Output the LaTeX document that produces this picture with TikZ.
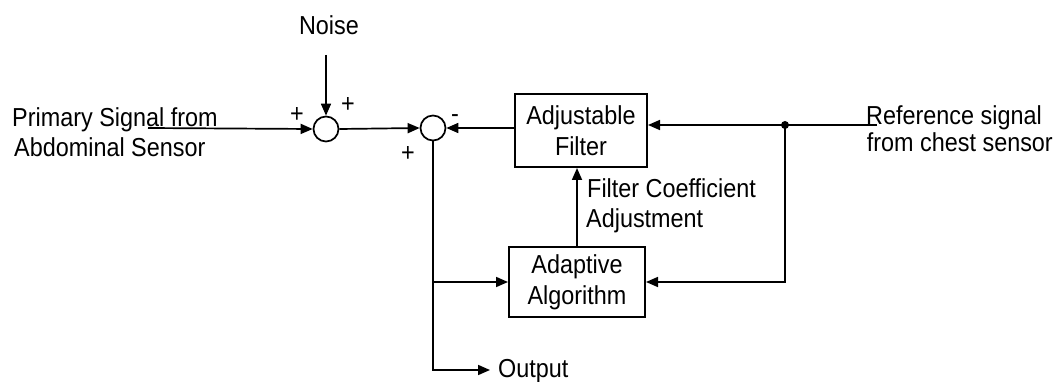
\documentclass[tikz,border=0pt]{standalone}
\usepackage{fontspec}
\setmainfont{Liberation Sans}[FakeStretch=0.9]
\usetikzlibrary{arrows.meta}
\tikzset{
  wire/.style={line width=1.7pt, line join=miter},
  sig/.style={wire, -{Triangle[length=12pt,width=10pt]}},
  sumpt/.style={circle, draw, line width=1.7pt, minimum size=25pt, inner sep=0pt},
  block/.style={draw, line width=2pt, align=center, inner sep=0pt,
    font=\fontsize{26}{31}\selectfont},
  lbl/.style={inner sep=0pt, font=\fontsize{26}{30}\selectfont},
  sgn/.style={inner sep=0pt, font=\fontsize{26}{28}\selectfont},
}
\begin{document}
\begin{tikzpicture}[x=1pt, y=-1pt]
  \useasboundingbox (0,0) rectangle (1057,382);

  % summing junctions
  \node[sumpt] (s1) at (326,129) {};
  \node[sumpt] (s2) at (433,128) {};

  % processing blocks
  \node[block, minimum width=132pt, minimum height=73pt] (af) at (581,130.5)
    {Adjustable\\Filter};
  \node[block, minimum width=136pt, minimum height=70pt] (aa) at (577,282)
    {Adaptive\\Algorithm};

  % text labels
  \node[lbl, anchor=base] (noise) at (329,35) {Noise};
  \node[lbl, anchor=base west] (pt1) at (12,127) {Primary Signal from};
  \node[lbl, anchor=base west] (pt2) at (14,157) {Abdominal Sensor};
  \node[lbl, anchor=base east] (rt1) at (1042,125) {Reference signal};
  \node[lbl, anchor=base east] (rt2) at (1053,152) {from chest sensor};
  \node[lbl, anchor=base west] (fc1) at (587,197) {Filter Coefficient};
  \node[lbl, anchor=base west] (fc2) at (586,227) {Adjustment};
  \node[lbl, anchor=base west] (out) at (498,377) {Output};

  % signs at the junction inputs
  \node[sgn] (p1) at (297,115) {+};
  \node[sgn] (p2) at (348,105) {+};
  \node[sgn] (p3) at (408,154) {+};
  \node[sgn] (m1) at (455,119) {-};

  % free ends of the connectors
  \coordinate (nz) at (326,55);
  \coordinate (pin) at (148,128);
  \coordinate (rin) at (877,125);
  \coordinate (jn) at (785,125);
  \coordinate (oend) at (490,370);

  % signal paths
  \draw[sig] (nz) -- (s1.north);
  \draw[sig] (pin) -- (s1.west);
  \draw[sig] (s1.east) -- (s2.west);
  \draw[sig] (af.west |- s2) -- (s2.east);
  \draw[wire] (rin) -- (jn);
  \draw[sig] (jn) -- (af.east |- jn);
  \draw[sig] (jn) |- (aa.east);
  \fill (jn) circle (4pt);
  \draw[sig] (aa.north) -- (aa.north |- af.south);
  \draw[sig] (s2.south) |- (oend);
  \draw[sig] (s2.south |- aa.west) -- (aa.west);
\end{tikzpicture}
\end{document}
